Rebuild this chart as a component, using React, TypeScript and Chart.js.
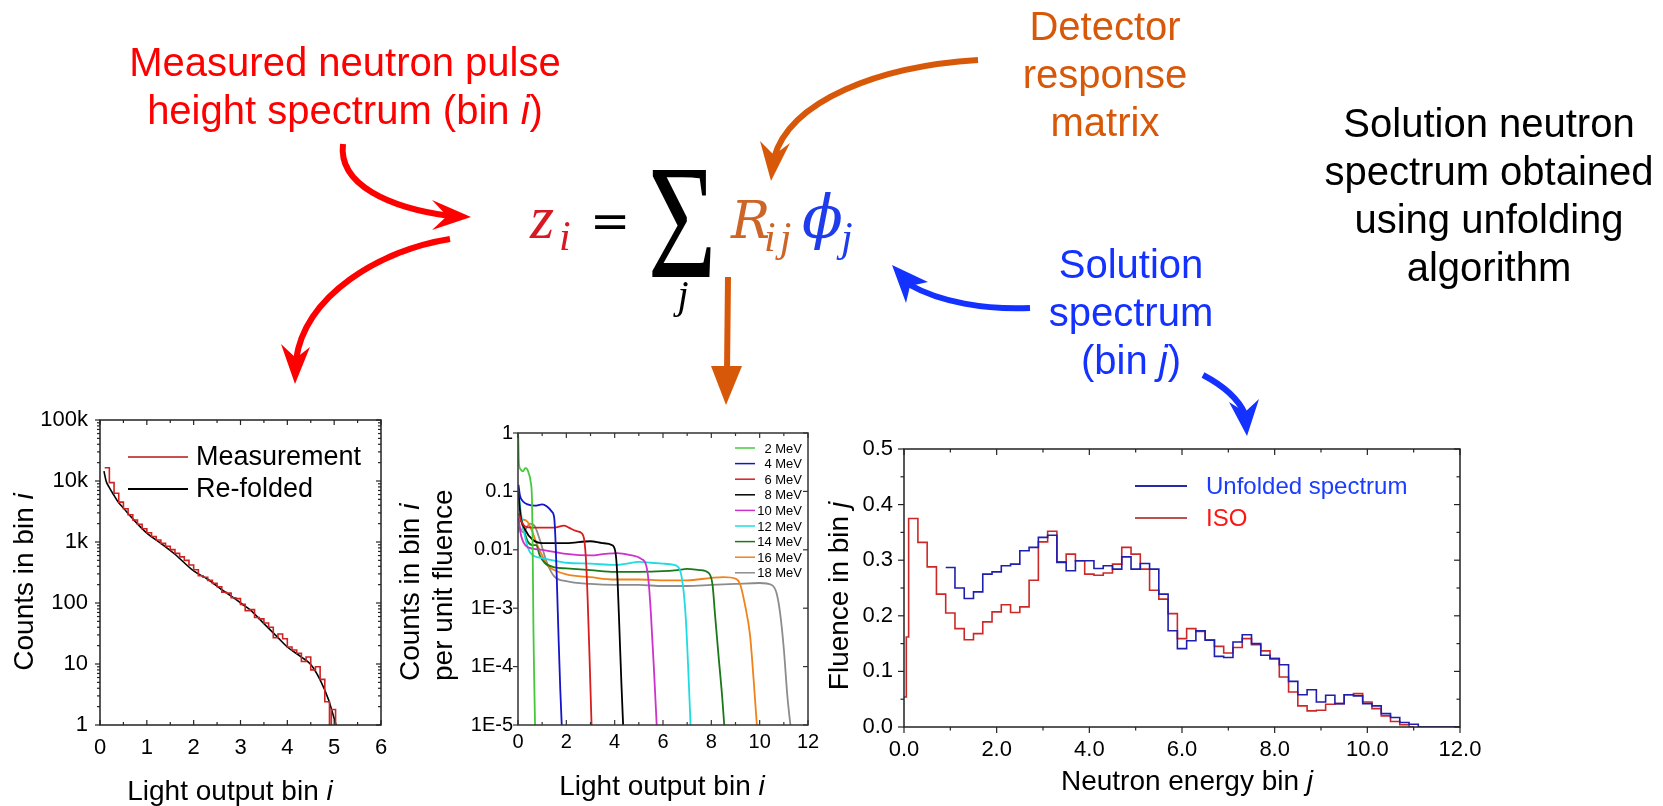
import React, { useEffect, useRef } from "react";
import { Chart, registerables } from "chart.js";

Chart.register(...registerables);

const SANS = '"Liberation Sans", Arial, Helvetica, sans-serif';
const SERIF = '"DejaVu Serif", "Liberation Serif", serif';
const TSERIF = '"Liberation Serif", "DejaVu Serif", serif';

// ---------------- Panel 1: measured vs re-folded pulse height spectrum ----------------
const measEdges = [0.1, 0.2, 0.3, 0.4, 0.5, 0.6, 0.7, 0.8, 0.9, 1.0, 1.1, 1.2, 1.3, 1.4, 1.5, 1.6, 1.7, 1.8, 1.9, 2.0, 2.1, 2.2, 2.3, 2.4, 2.5, 2.6, 2.7, 2.8, 2.9, 3.0, 3.1, 3.2, 3.3, 3.4, 3.5, 3.6, 3.7, 3.8, 3.9, 4.0, 4.1, 4.2, 4.3, 4.4, 4.5, 4.6, 4.7, 4.8, 4.9, 4.94, 5.03];
const measCounts = [16500, 9400, 6300, 4500, 3500, 2800, 2300, 1950, 1650, 1420, 1230, 1080, 950, 850, 750, 650, 570, 500, 420, 350, 280, 265, 235, 210, 185, 150, 145, 122, 118, 95, 75, 78, 58, 55, 47, 40, 27, 31, 26, 19, 17, 15, 11, 13, 8, 9, 5.6, 2.4, 0.8, 1.8, 0.5];
const refoldX = [0.085, 0.13, 0.2, 0.3, 0.4, 0.5, 0.7, 1.0, 1.3, 1.6, 2.0, 2.3, 2.6, 2.9, 3.0, 3.2, 3.5, 3.8, 4.0, 4.3, 4.5, 4.7, 4.88, 5.04, 5.08];
const refoldY = [14500, 10000, 7800, 5800, 4400, 3600, 2400, 1400, 950, 630, 335, 245, 165, 115, 100, 78, 46, 27, 19, 13, 9.8, 5.5, 2.6, 1.0, 0.8];
const p1YTicks = [1, 10, 100, 1000, 10000, 100000];
const p1YLabels = ["1", "10", "100", "1k", "10k", "100k"];
const p1XTicks = [0, 1, 2, 3, 4, 5, 6];
const p1XLabels = ["0", "1", "2", "3", "4", "5", "6"];
const p1XMinor = [0.5, 1.5, 2.5, 3.5, 4.5, 5.5];
const p1YMinor = [2, 3, 4, 5, 6, 7, 8, 9, 20, 30, 40, 50, 60, 70, 80, 90, 200, 300, 400, 500, 600, 700, 800, 900, 2000, 3000, 4000, 5000, 6000, 7000, 8000, 9000, 20000, 30000, 40000, 50000, 60000, 70000, 80000, 90000];

// ---------------- Panel 2: detector response functions ----------------
const respLabels = ["2 MeV", "4 MeV", "6 MeV", "8 MeV", "10 MeV", "12 MeV", "14 MeV", "16 MeV", "18 MeV"];
const respColors = ["rgb(70,200,60)", "rgb(20,20,200)", "rgb(215,30,30)", "rgb(0,0,0)", "rgb(205,50,205)", "rgb(30,220,225)", "rgb(25,120,25)", "rgb(240,130,25)", "rgb(140,140,140)"];
const r2x = [0.01, 0.04, 0.1, 0.2, 0.3, 0.38, 0.45, 0.52, 0.58, 0.6, 0.62, 0.64, 0.67, 0.71];
const r2y = [0.9, 0.3, 0.24, 0.22, 0.25, 0.24, 0.2, 0.15, 0.07, 0.02, 0.003, 4e-4, 6e-5, 8e-6];
const r4x = [0.02, 0.08, 0.2, 0.4, 0.7, 1.0, 1.2, 1.4, 1.5, 1.56, 1.62, 1.68, 1.75, 1.82];
const r4y = [0.13, 0.085, 0.068, 0.06, 0.057, 0.06, 0.055, 0.045, 0.035, 0.012, 0.002, 3e-4, 4e-5, 8e-6];
const r6x = [0.05, 0.15, 0.3, 0.6, 1.0, 1.5, 1.9, 2.1, 2.4, 2.65, 2.75, 2.82, 2.88, 2.95, 3.05];
const r6y = [0.04, 0.03, 0.025, 0.024, 0.024, 0.024, 0.026, 0.024, 0.021, 0.019, 0.014, 0.006, 0.0015, 2e-4, 8e-6];
const r8x = [0.02, 0.1, 0.3, 0.6, 1.0, 2.0, 3.0, 3.5, 3.9, 4.05, 4.12, 4.2, 4.28, 4.36];
const r8y = [0.1, 0.04, 0.022, 0.015, 0.013, 0.013, 0.014, 0.013, 0.012, 0.008, 0.003, 4e-4, 5e-5, 8e-6];
const r10x = [0.03, 0.1, 0.3, 0.6, 1.0, 2.0, 3.0, 3.6, 4.1, 4.6, 5.1, 5.3, 5.4, 5.5, 5.62, 5.75];
const r10y = [0.035, 0.02, 0.012, 0.0105, 0.01, 0.0085, 0.008, 0.0085, 0.0088, 0.0082, 0.007, 0.0055, 0.003, 8e-4, 1e-4, 8e-6];
const r12x = [0.03, 0.1, 0.25, 0.5, 1.0, 1.5, 2.0, 3.0, 4.0, 4.5, 5.0, 5.5, 6.0, 6.45, 6.7, 6.85, 6.95, 7.05, 7.15];
const r12y = [0.09, 0.05, 0.02, 0.009, 0.0072, 0.0065, 0.006, 0.0058, 0.0055, 0.0058, 0.0062, 0.006, 0.0058, 0.0055, 0.0045, 0.002, 6e-4, 8e-5, 8e-6];
const r14x = [0.05, 0.2, 0.4, 0.6, 0.75, 0.9, 1.1, 1.5, 2.0, 3.0, 4.0, 5.0, 6.0, 6.6, 7.0, 7.5, 7.9, 8.05, 8.15, 8.3, 8.45, 8.55];
const r14y = [0.042, 0.025, 0.014, 0.012, 0.012, 0.008, 0.006, 0.005, 0.0048, 0.0045, 0.0042, 0.0042, 0.0043, 0.0045, 0.0047, 0.0045, 0.004, 0.0025, 8e-4, 1.5e-4, 3e-5, 8e-6];
const r16x = [0.05, 0.2, 0.4, 0.6, 0.8, 1.0, 1.2, 1.5, 2.0, 3.0, 4.0, 5.0, 6.0, 7.0, 8.0, 8.5, 9.0, 9.2, 9.4, 9.6, 9.75, 9.9];
const r16y = [0.03, 0.033, 0.03, 0.02, 0.012, 0.008, 0.0055, 0.0045, 0.0038, 0.0034, 0.0031, 0.0031, 0.003, 0.003, 0.0033, 0.0034, 0.0032, 0.0025, 0.0011, 3.5e-4, 6e-5, 8e-6];
const r18x = [0.01, 0.05, 0.2, 0.5, 0.7, 0.9, 1.2, 1.5, 2.0, 3.0, 4.0, 5.0, 6.0, 7.0, 8.0, 9.0, 10.0, 10.5, 10.7, 10.85, 11.0, 11.15, 11.3];
const r18y = [0.02, 0.025, 0.02, 0.028, 0.025, 0.015, 0.006, 0.0035, 0.0029, 0.0026, 0.0025, 0.0025, 0.0024, 0.0024, 0.0025, 0.0026, 0.0027, 0.0025, 0.0018, 8e-4, 2e-4, 3e-5, 8e-6];
const respX = [r2x, r4x, r6x, r8x, r10x, r12x, r14x, r16x, r18x];
const respY = [r2y, r4y, r6y, r8y, r10y, r12y, r14y, r16y, r18y];
const p2YTicks = [1e-5, 1e-4, 1e-3, 0.01, 0.1, 1];
const p2YLabels = ["1E-5", "1E-4", "1E-3", "0.01", "0.1", "1"];
const p2XTicks = [0, 2, 4, 6, 8, 10, 12];
const p2XLabels = ["0", "2", "4", "6", "8", "10", "12"];
const p2XMinor = [1, 3, 5, 7, 9, 11];

// ---------------- Panel 3: unfolded vs ISO spectrum ----------------
const isoEdges = [0, 0.05, 0.1, 0.3, 0.5, 0.7, 0.9, 1.1, 1.3, 1.5, 1.7, 1.9, 2.1, 2.3, 2.5, 2.7, 2.9, 3.1, 3.3, 3.5, 3.7, 3.9, 4.1, 4.3, 4.5, 4.7, 4.9, 5.1, 5.3, 5.5, 5.7, 5.9, 6.1, 6.3, 6.5, 6.7, 6.9, 7.1, 7.3, 7.5, 7.7, 7.9, 8.1, 8.3, 8.5, 8.7, 8.9, 9.1, 9.3, 9.5, 9.7, 9.9, 10.1, 10.3, 10.5, 10.7, 10.9, 11.0];
const isoFluence = [0.054, 0.162, 0.375, 0.332, 0.288, 0.239, 0.205, 0.177, 0.157, 0.168, 0.189, 0.207, 0.22, 0.206, 0.216, 0.264, 0.333, 0.352, 0.297, 0.311, 0.299, 0.275, 0.273, 0.277, 0.293, 0.323, 0.311, 0.284, 0.246, 0.23, 0.204, 0.159, 0.177, 0.172, 0.157, 0.145, 0.133, 0.143, 0.159, 0.148, 0.137, 0.123, 0.09, 0.063, 0.038, 0.029, 0.03, 0.041, 0.042, 0.058, 0.06, 0.045, 0.033, 0.02, 0.01, 0.004, 0.0, 0.0];
const unfEdges = [0.9, 1.1, 1.3, 1.5, 1.7, 1.9, 2.1, 2.3, 2.5, 2.7, 2.9, 3.1, 3.3, 3.5, 3.7, 3.9, 4.1, 4.3, 4.5, 4.7, 4.9, 5.1, 5.3, 5.5, 5.7, 5.9, 6.1, 6.3, 6.5, 6.7, 6.9, 7.1, 7.3, 7.5, 7.7, 7.9, 8.1, 8.3, 8.5, 8.7, 8.9, 9.1, 9.3, 9.5, 9.7, 9.9, 10.1, 10.3, 10.5, 10.7, 10.9, 11.1, 12.0];
const unfFluence = [0.287, 0.25, 0.231, 0.243, 0.275, 0.279, 0.29, 0.293, 0.317, 0.323, 0.341, 0.345, 0.296, 0.281, 0.299, 0.299, 0.285, 0.29, 0.284, 0.306, 0.284, 0.294, 0.284, 0.239, 0.173, 0.141, 0.155, 0.173, 0.156, 0.127, 0.125, 0.153, 0.166, 0.15, 0.129, 0.123, 0.112, 0.082, 0.058, 0.067, 0.045, 0.057, 0.042, 0.058, 0.056, 0.042, 0.038, 0.024, 0.017, 0.008, 0.005, 0.0, 0.0];
const p3XTicks = [0, 2, 4, 6, 8, 10, 12];
const p3XLabels = ["0.0", "2.0", "4.0", "6.0", "8.0", "10.0", "12.0"];
const p3XMinor = [1, 3, 5, 7, 9, 11];
const p3YTicks = [0, 0.1, 0.2, 0.3, 0.4, 0.5];
const p3YLabels = ["0.0", "0.1", "0.2", "0.3", "0.4", "0.5"];
const p3YMinor = [0.05, 0.15, 0.25, 0.35, 0.45];

// ---------------- helpers ----------------
type Box = { l: number; t: number; w: number; h: number };
type Plot = { left: number; top: number; right: number; bottom: number };

function fitFrame(c: Box, p: Plot) {
  return {
    padding: { top: p.top - c.t, right: c.l + c.w - p.right, bottom: 0, left: 0 },
    yWidth: p.left - c.l,
    xHeight: c.t + c.h - p.bottom,
  };
}

const pts = (xs: number[], ys: number[]) => xs.map((x, i) => ({ x, y: ys[i] }));

const framePlugin = {
  id: "frameTicks",
  afterDatasetsDraw(chart: any, _a: any, o: any) {
    if (!o || !o.enabled) return;
    const { ctx, chartArea: a, scales } = chart;
    const sx = scales.x;
    const sy = scales.y;
    ctx.save();
    ctx.strokeStyle = o.color;
    ctx.lineWidth = o.lineWidth;
    ctx.strokeRect(a.left, a.top, a.right - a.left, a.bottom - a.top);
    const seg = (x1: number, y1: number, x2: number, y2: number) => {
      ctx.beginPath();
      ctx.moveTo(x1, y1);
      ctx.lineTo(x2, y2);
      ctx.stroke();
    };
    const dir = (side: string) => (o.out && o.out.includes(side) ? -1 : 1);
    ctx.lineWidth = o.tickWidth;
    const drawX = (vals: number[], len: number) =>
      vals.forEach((v) => {
        const px = sx.getPixelForValue(v);
        seg(px, a.bottom, px, a.bottom - dir("bottom") * len);
        seg(px, a.top, px, a.top + dir("top") * len);
      });
    const drawY = (vals: number[], len: number) =>
      vals.forEach((v) => {
        const py = sy.getPixelForValue(v);
        seg(a.left, py, a.left + dir("left") * len, py);
        seg(a.right, py, a.right - dir("right") * len, py);
      });
    drawX(o.xMajor || [], o.majorLen);
    drawX(o.xMinor || [], o.minorLen);
    drawY(o.yMajor || [], o.majorLen);
    drawY(o.yMinor || [], o.minorLen);
    ctx.restore();
  },
};

const legendPlugin = {
  id: "inlineLegend",
  afterDraw(chart: any, _a: any, o: any) {
    if (!o || !o.enabled) return;
    const { ctx, chartArea: a } = chart;
    ctx.save();
    chart.data.datasets.forEach((ds: any, i: number) => {
      const y = a.top + o.top + i * o.gap;
      ctx.strokeStyle = (o.lineColors && o.lineColors[i]) || ds.borderColor;
      ctx.lineWidth = o.lineWidth;
      ctx.beginPath();
      ctx.moveTo(a.left + o.x0, y);
      ctx.lineTo(a.left + o.x1, y);
      ctx.stroke();
      ctx.font = o.font;
      ctx.fillStyle = (o.textColors && o.textColors[i]) || "#000";
      ctx.textAlign = o.align;
      ctx.textBaseline = "middle";
      ctx.fillText(ds.label, a.left + o.tx, y + (o.dy || 0));
    });
    ctx.restore();
  },
};

function axisX(min: number, max: number, ticks: number[], labels: string[], h: number, size: number, pad: number) {
  return {
    type: "linear",
    min,
    max,
    afterBuildTicks: (s: any) => {
      s.ticks = ticks.map((v) => ({ value: v }));
    },
    afterFit: (s: any) => {
      s.height = h;
    },
    grid: { display: false, drawTicks: false },
    border: { display: false },
    ticks: {
      autoSkip: false,
      maxRotation: 0,
      padding: pad,
      color: "#000",
      font: { family: SANS, size },
      callback: (v: number) => {
        const k = ticks.findIndex((t) => Math.abs(t - v) < 1e-9);
        return k >= 0 ? labels[k] : "";
      },
    },
  };
}

function axisY(type: string, min: number, max: number, ticks: number[], labels: string[], w: number, size: number, pad: number) {
  return {
    type,
    min,
    max,
    afterBuildTicks: (s: any) => {
      s.ticks = ticks.map((v) => ({ value: v }));
    },
    afterFit: (s: any) => {
      s.width = w;
    },
    grid: { display: false, drawTicks: false },
    border: { display: false },
    ticks: {
      autoSkip: false,
      padding: pad,
      color: "#000",
      font: { family: SANS, size },
      callback: (v: number) => {
        const k = ticks.findIndex((t) => Math.abs(t - v) <= Math.abs(t) * 1e-6 + 1e-12);
        return k >= 0 ? labels[k] : "";
      },
    },
  };
}

// ---------------- chart configs ----------------
const c1Box: Box = { l: 0, t: 390, w: 400, h: 416 };
const c1Plot: Plot = { left: 100, top: 420, right: 381, bottom: 725 };
const c2Box: Box = { l: 400, t: 400, w: 440, h: 406 };
const c2Plot: Plot = { left: 518, top: 433, right: 808, bottom: 725 };
const c3Box: Box = { l: 820, t: 420, w: 700, h: 386 };
const c3Plot: Plot = { left: 904, top: 449, right: 1460, bottom: 727 };

function config1() {
  const f = fitFrame(c1Box, c1Plot);
  return {
    type: "line",
    data: {
      datasets: [
        { label: "Measurement", data: pts(measEdges, measCounts), stepped: true, borderColor: "rgb(205,35,35)", borderWidth: 1.6, pointRadius: 0, fill: false },
        { label: "Re-folded", data: pts(refoldX, refoldY), cubicInterpolationMode: "monotone", borderColor: "#000", borderWidth: 1.6, pointRadius: 0, fill: false },
      ],
    },
    options: {
      animation: false,
      responsive: false,
      layout: { padding: f.padding },
      scales: {
        x: axisX(0, 6, p1XTicks, p1XLabels, f.xHeight, 22, 10),
        y: axisY("logarithmic", 1, 100000, p1YTicks, p1YLabels, f.yWidth, 22, 12),
      },
      plugins: {
        legend: { display: false },
        tooltip: { enabled: false },
        frameTicks: { enabled: true, color: "#222", lineWidth: 1.5, tickWidth: 1.2, majorLen: 5, minorLen: 3, out: ["left"], xMajor: p1XTicks, xMinor: p1XMinor, yMajor: p1YTicks, yMinor: p1YMinor },
        inlineLegend: { enabled: true, top: 37, gap: 32, x0: 28, x1: 88, tx: 96, font: `27px ${SANS}`, align: "left", lineWidth: 2, lineColors: ["rgb(200,80,80)", "#000"], textColors: ["#000", "#000"], dy: 1 },
      },
    },
    plugins: [framePlugin, legendPlugin],
  };
}

function config2() {
  const f = fitFrame(c2Box, c2Plot);
  return {
    type: "line",
    data: {
      datasets: respLabels.map((label, i) => ({
        label,
        data: pts(respX[i], respY[i]),
        cubicInterpolationMode: "monotone",
        borderColor: respColors[i],
        borderWidth: 1.8,
        pointRadius: 0,
        fill: false,
      })),
    },
    options: {
      animation: false,
      responsive: false,
      layout: { padding: f.padding },
      scales: {
        x: axisX(0, 12, p2XTicks, p2XLabels, f.xHeight, 20, 5),
        y: axisY("logarithmic", 1e-5, 1, p2YTicks, p2YLabels, f.yWidth, 20, 5),
      },
      plugins: {
        legend: { display: false },
        tooltip: { enabled: false },
        frameTicks: { enabled: true, color: "#333", lineWidth: 1.5, tickWidth: 1.2, majorLen: 5, minorLen: 3, out: ["left"], xMajor: p2XTicks, xMinor: p2XMinor, yMajor: p2YTicks, yMinor: [] },
        inlineLegend: { enabled: true, top: 15, gap: 15.6, x0: 217, x1: 237, tx: 284, font: `13px ${SANS}`, align: "right", lineWidth: 1.5, dy: 1 },
      },
    },
    plugins: [framePlugin, legendPlugin],
  };
}

function config3() {
  const f = fitFrame(c3Box, c3Plot);
  return {
    type: "line",
    data: {
      datasets: [
        { label: "Unfolded spectrum", data: pts(unfEdges, unfFluence), stepped: true, borderColor: "rgb(30,30,175)", borderWidth: 1.6, pointRadius: 0, fill: false },
        { label: "ISO", data: pts(isoEdges, isoFluence), stepped: true, borderColor: "rgb(205,40,40)", borderWidth: 1.6, pointRadius: 0, fill: false },
      ],
    },
    options: {
      animation: false,
      responsive: false,
      layout: { padding: f.padding },
      scales: {
        x: axisX(0, 12, p3XTicks, p3XLabels, f.xHeight, 22, 10),
        y: axisY("linear", 0, 0.5, p3YTicks, p3YLabels, f.yWidth, 22, 11),
      },
      plugins: {
        legend: { display: false },
        tooltip: { enabled: false },
        frameTicks: { enabled: true, color: "#222", lineWidth: 1.5, tickWidth: 1.2, majorLen: 6, minorLen: 3.5, out: ["left", "bottom"], xMajor: p3XTicks, xMinor: p3XMinor, yMajor: p3YTicks, yMinor: p3YMinor },
        inlineLegend: { enabled: true, top: 37, gap: 32, x0: 231, x1: 283, tx: 302, font: `24px ${SANS}`, align: "left", lineWidth: 2, lineColors: ["rgb(40,40,170)", "rgb(190,80,80)"], textColors: ["rgb(25,60,255)", "rgb(255,20,20)"], dy: 1 },
      },
    },
    plugins: [framePlugin, legendPlugin],
  };
}

function ChartCanvas({ box, offset, make }: { box: Box; offset: { l: number; t: number }; make: () => any }) {
  const ref = useRef<HTMLCanvasElement | null>(null);
  useEffect(() => {
    if (!ref.current) return;
    const chart = new Chart(ref.current, make());
    return () => chart.destroy();
  }, []);
  return (
    <canvas
      ref={ref}
      width={box.w}
      height={box.h}
      style={{ position: "absolute", left: box.l - offset.l, top: box.t - offset.t, width: box.w, height: box.h }}
    />
  );
}

const RED = "rgb(255,0,0)";
const ORANGE = "rgb(216,88,10)";
const BLUE = "rgb(20,50,255)";

export default function App() {
  return (
    <div style={{ position: "absolute", left: 0, top: 0, width: 1663, height: 806, background: "#fff", overflow: "hidden" }}>
      <ChartCanvas box={c1Box} offset={{ l: 0, t: 0 }} make={config1} />
      <div style={{ position: "absolute", left: 400, top: 400, width: 420, height: 406, overflow: "hidden" }}>
        <ChartCanvas box={c2Box} offset={{ l: 400, t: 400 }} make={config2} />
      </div>
      <ChartCanvas box={c3Box} offset={{ l: 0, t: 0 }} make={config3} />

      <svg width={1663} height={806} style={{ position: "absolute", left: 0, top: 0, pointerEvents: "none" }}>
        {/* annotation texts */}
        <g fontFamily={SANS} fontSize={40} textAnchor="middle">
          <text x={345} y={76} fill={RED}>Measured neutron pulse</text>
          <text x={345} y={124} fill={RED}>height spectrum (bin <tspan fontStyle="italic">i</tspan>)</text>
          <text x={1105} y={40} fill={ORANGE}>Detector</text>
          <text x={1105} y={88} fill={ORANGE}>response</text>
          <text x={1105} y={136} fill={ORANGE}>matrix</text>
          <text x={1131} y={278} fill={BLUE}>Solution</text>
          <text x={1131} y={326} fill={BLUE}>spectrum</text>
          <text x={1131} y={374} fill={BLUE}>(bin <tspan fontStyle="italic">j</tspan>)</text>
          <text x={1489} y={137} fill="#000">Solution neutron</text>
          <text x={1489} y={185} fill="#000">spectrum obtained</text>
          <text x={1489} y={233} fill="#000">using unfolding</text>
          <text x={1489} y={281} fill="#000">algorithm</text>
        </g>

        {/* formula */}
        <g fontFamily={SERIF}>
          <text x={530} y={238} fontFamily={TSERIF} fontSize={62} fontStyle="italic" fill="rgb(215,25,35)">z</text>
          <text x={559} y={250} fontFamily={TSERIF} fontSize={42} fontStyle="italic" fill="rgb(215,25,35)">i</text>
          <text x={610} y={238} fontSize={48} textAnchor="middle" fill="#000">=</text>
          <text transform="translate(682,277) scale(0.72,1)" fontFamily={TSERIF} fontSize={164} textAnchor="middle" fill="#000">Σ</text>
          <text x={683} y={308} fontFamily={TSERIF} fontSize={40} fontStyle="italic" textAnchor="middle" fill="#000">j</text>
          <text x={731} y={238} fontSize={52} fontStyle="italic" fill="rgb(205,100,40)">R</text>
          <text x={764} y={251} fontFamily={TSERIF} fontSize={42} fontStyle="italic" letterSpacing={4} fill="rgb(205,100,40)">ij</text>
          <text x={802} y={238} fontSize={60} fontStyle="italic" fill="rgb(30,60,235)">ϕ</text>
          <text x={841} y={251} fontFamily={TSERIF} fontSize={42} fontStyle="italic" fill="rgb(30,60,235)">j</text>
        </g>

        {/* axis titles */}
        <g fontFamily={SANS} fontSize={28} fill="#000">
          <text x={230} y={800} textAnchor="middle">Light output bin <tspan fontStyle="italic">i</tspan></text>
          <text transform="translate(33,582) rotate(-90)" textAnchor="middle">Counts in bin <tspan fontStyle="italic">i</tspan></text>
          <text x={662} y={795} textAnchor="middle">Light output bin <tspan fontStyle="italic">i</tspan></text>
          <text transform="translate(419,681) rotate(-90)" textAnchor="start">Counts in bin <tspan fontStyle="italic">i</tspan></text>
          <text transform="translate(452,681) rotate(-90)" textAnchor="start">per unit fluence</text>
          <text x={1187} y={790} textAnchor="middle">Neutron energy bin <tspan fontStyle="italic">j</tspan></text>
          <text transform="translate(848,596) rotate(-90)" textAnchor="middle">Fluence in bin <tspan fontStyle="italic">j</tspan></text>
        </g>

        {/* arrows */}
        <g fill="none" strokeWidth={6}>
          <path d="M343,144 C338,185 390,208 450,216" stroke={RED} />
          <path d="M450,239 C380,250 305,295 296,360" stroke={RED} />
          <path d="M978,60 C880,66 790,100 774,158" stroke={ORANGE} />
          <path d="M728,277 L727,372" stroke={ORANGE} />
          <path d="M1030,308 C985,310 940,302 910,285" stroke={BLUE} />
          <path d="M1203,375 C1222,385 1238,398 1245,414" stroke={BLUE} />
        </g>
        <polygon points="471,217 432,200 447,216 432,230" fill={RED} />
        <polygon points="295,384 281,344 296,358 310,347" fill={RED} />
        <polygon points="771,181 760,141 774,155 790,143" fill={ORANGE} />
        <polygon points="726,405 711,366 742,366" fill={ORANGE} />
        <polygon points="892,265 928,282 910,286 906,303" fill={BLUE} />
        <polygon points="1247,436 1229,402 1245,412 1259,399" fill={BLUE} />
      </svg>
    </div>
  );
}
